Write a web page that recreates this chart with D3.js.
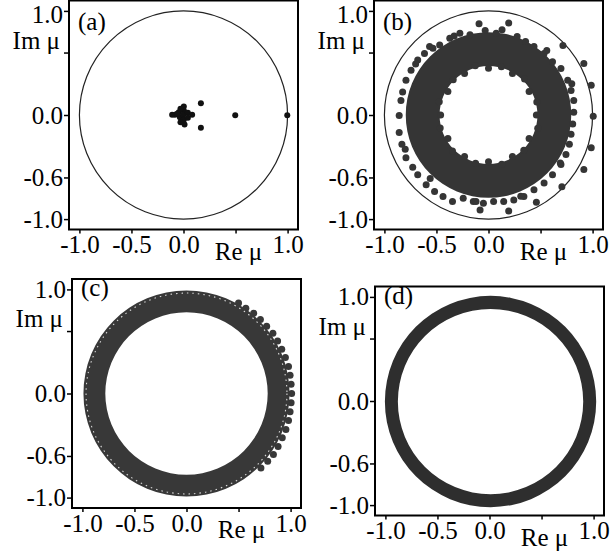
<!DOCTYPE html>
<html><head><meta charset="utf-8">
<script src="https://cdn.jsdelivr.net/npm/d3@7"></script>
<style>body{margin:0;background:#fff} svg{display:block}</style>
</head><body>
<svg id="chart" width="610" height="556"></svg>
<script>
// ---------- data ----------
const ticksX = [-1.0, -0.5, 0.0, 0.5, 1.0];
const ticksY = [-1.0, -0.6, 0.0, 0.6, 1.0];
const hiddenX = [0.5];
const hiddenY = [0.6];
const panelNames = ["(a)", "(b)", "(c)", "(d)"];
const xTitle = "Re \u03bc";
const yTitle = "Im \u03bc";

// (a) eigenvalues
const aRe = [-0.083,-0.109,-0.045,-0.035,0.003,0.003,-0.003,0.003,0.010,0.042,0.042,0.083,-0.029,-0.061,-0.029,0.167,0.167,0.497,0.997];
const aIm = [0.002,0.002,0.027,-0.021,0.082,0.043,0.002,-0.046,-0.091,0.021,-0.027,0.002,-0.069,0.011,0.059,0.114,-0.123,-0.002,-0.002];

// (b) eigenvalues: dense band + edge/outlier points
const bBand = [0.47, 0.795];
const bRe = [-0.275,-0.178,-0.032,0.074,0.194,-0.091,-0.372,-0.469,-0.566,0.275,0.356,0.437,0.534,0.615,0.696,0.761,0.793,0.819,0.819,0.809,0.793,0.777,0.744,0.696,0.615,0.534,0.437,0.340,0.243,0.146,0.049,-0.049,-0.146,-0.243,-0.346,-0.437,-0.518,-0.599,-0.680,-0.728,-0.793,-0.832,-0.858,-0.858,-0.841,-0.825,-0.793,-0.744,-0.680,-0.615,-0.534,
  0.715,0.916,0.987,1.006,0.987,0.916,0.705,0.460,0.194,-0.081,
  0.460,0.464,0.390,0.346,0.230,0.124,0.000,-0.127,-0.230,-0.339,-0.390,-0.473,-0.460,-0.464,-0.390,-0.346,-0.230,-0.124,0.000,0.127,0.230,0.339,0.390,0.473,
  -0.330,0.130,0.560,0.800,0.690,0.310,-0.120,-0.560,-0.800,-0.700];
const bIm = [0.786,0.770,0.812,0.786,0.883,0.877,0.738,0.673,0.657,0.754,0.706,0.657,0.592,0.511,0.447,0.333,0.236,0.139,0.026,-0.087,-0.184,-0.282,-0.379,-0.476,-0.573,-0.654,-0.718,-0.783,-0.816,-0.832,-0.832,-0.848,-0.832,-0.799,-0.832,-0.783,-0.735,-0.670,-0.573,-0.502,-0.411,-0.282,-0.168,-0.006,0.139,0.220,0.333,0.430,0.528,0.592,0.641,
  0.667,0.495,0.285,-0.013,-0.314,-0.524,-0.689,-0.838,-0.922,-0.913,
  0.000,0.124,0.225,0.346,0.398,0.464,0.450,0.473,0.398,0.339,0.225,0.127,0.000,-0.124,-0.225,-0.346,-0.398,-0.464,-0.450,-0.473,-0.398,-0.339,-0.225,-0.127,
  0.760,0.820,0.620,0.300,-0.460,-0.780,-0.830,-0.610,-0.330,0.490];

// (c) eigenvalues: dense band + outer beads on right side
const cBand = [0.78, 0.99];
const cDashRadius = [0.965];
const cRe = [0.50,0.57,0.645,0.71,0.77,0.83,0.875,0.915,0.95,0.98,0.995,1.005,1.01,1.005,0.995,0.98,0.955,0.92,0.88,0.835,0.78,0.715];
const cIm = [0.87,0.82,0.77,0.71,0.645,0.58,0.505,0.425,0.345,0.26,0.175,0.088,0.0,-0.088,-0.175,-0.26,-0.345,-0.425,-0.51,-0.585,-0.65,-0.715];

// (d) eigenvalues: thin dense band near unit circle
const dBand = [0.89, 1.015];
const dCenter = [0.01, -0.005];

// ---------- layout ----------
const panels = [
  {left: 69,  top: 0.5,   size: 229, labelDy: 29},
  {left: 374, top: 0.5,   size: 229, labelDy: 29},
  {left: 72,  top: 279,   size: 229, labelDy: 17},
  {left: 375, top: 286.5, size: 229, labelDy: 17}
];
const FONT = "'Liberation Serif','Times New Roman',Times,serif";
const FS = 25;
const svg = d3.select("#chart");
const fmt = v => v.toFixed(1);

panels.forEach((p, i) => {
  const x = d3.scaleLinear([-1.1, 1.1], [p.left, p.left + p.size]);
  const y = d3.scaleLinear([-1.1, 1.1], [p.top + p.size, p.top]);
  const g = svg.append("g");
  const rpx = r => x(r) - x(0);

  if (i === 0 || i === 1) {
    g.append("circle").attr("cx", x(0)).attr("cy", y(0)).attr("r", rpx(1))
      .attr("fill", "none").attr("stroke", "#222").attr("stroke-width", 1.2);
  }
  if (i === 0) {
    g.selectAll("circle.pt").data(d3.range(aRe.length)).join("circle")
      .attr("class","pt").attr("cx", k => x(aRe[k])).attr("cy", k => y(aIm[k]))
      .attr("r", 3).attr("fill", "#111");
  }
  if (i === 1) {
    const arc = d3.arc().innerRadius(rpx(bBand[0])).outerRadius(rpx(bBand[1])).startAngle(0).endAngle(2*Math.PI);
    g.append("path").attr("d", arc()).attr("transform", `translate(${x(0)},${y(0)})`).attr("fill", "#353535");
    g.selectAll("circle.pt").data(d3.range(bRe.length)).join("circle")
      .attr("class","pt").attr("cx", k => x(bRe[k])).attr("cy", k => y(bIm[k]))
      .attr("r", 3.5).attr("fill", "#353535");
  }
  if (i === 2) {
    g.selectAll("circle.pt").data(d3.range(cRe.length)).join("circle")
      .attr("class","pt").attr("cx", k => x(cRe[k])).attr("cy", k => y(cIm[k]))
      .attr("r", 3.5).attr("fill", "#383838");
    const arc = d3.arc().innerRadius(rpx(cBand[0])).outerRadius(rpx(cBand[1])).startAngle(0).endAngle(2*Math.PI);
    g.append("path").attr("d", arc()).attr("transform", `translate(${x(0)},${y(0)})`).attr("fill", "#383838");
    g.append("circle").attr("cx", x(0)).attr("cy", y(0)).attr("r", rpx(cDashRadius[0]))
      .attr("fill", "none").attr("stroke", "#fff").attr("stroke-width", 1.1)
      .attr("stroke-dasharray", "1.5 4").attr("opacity", 0.8);
  }
  if (i === 3) {
    const arc = d3.arc().innerRadius(rpx(dBand[0])).outerRadius(rpx(dBand[1])).startAngle(0).endAngle(2*Math.PI);
    g.append("path").attr("d", arc()).attr("transform", `translate(${x(dCenter[0])},${y(dCenter[1])})`).attr("fill", "#2e2e2e");
  }

  // axes
  const ax = g.append("g").attr("transform", `translate(0,${p.top + p.size})`)
    .call(d3.axisBottom(x).tickValues(ticksX).tickSize(4).tickPadding(2)
      .tickFormat(v => hiddenX.includes(v) ? "" : fmt(v)));
  const ay = g.append("g").attr("transform", `translate(${p.left},0)`)
    .call(d3.axisLeft(y).tickValues(ticksY).tickSize(5).tickPadding(1)
      .tickFormat(v => hiddenY.includes(v) ? "" : fmt(v)));
  [ax, ay].forEach(a => {
    a.attr("font-family", FONT).attr("font-size", FS);
    a.select(".domain").remove();
    a.selectAll("line").attr("stroke", "#000").attr("stroke-width", 1.5);
    a.selectAll("text").attr("font-family", FONT).attr("font-size", FS).attr("fill", "#000");
  });
  // keep the topmost "1.0" labels inside the page
  if (p.top < 5) ay.selectAll(".tick").filter(v => v === 1).select("text").attr("dy", "0.46em");

  // frame
  g.append("rect").attr("x", p.left).attr("y", p.top).attr("width", p.size).attr("height", p.size)
    .attr("fill", "none").attr("stroke", "#000").attr("stroke-width", 2);

  // titles
  g.append("text").attr("x", x(0.5) + 3).attr("y", p.top + p.size + 30)
    .attr("text-anchor", "middle").attr("font-family", FONT).attr("font-size", FS).attr("fill", "#000").text(xTitle);
  g.append("text").attr("x", p.left - 9).attr("y", y(0.6) - 4)
    .attr("text-anchor", "end").attr("font-family", FONT).attr("font-size", FS).attr("fill", "#000").text(yTitle);
  g.append("text").attr("x", p.left + 9).attr("y", p.top + p.labelDy)
    .attr("font-family", FONT).attr("font-size", FS).attr("fill", "#000").text(panelNames[i]);
});
</script>
</body></html>
